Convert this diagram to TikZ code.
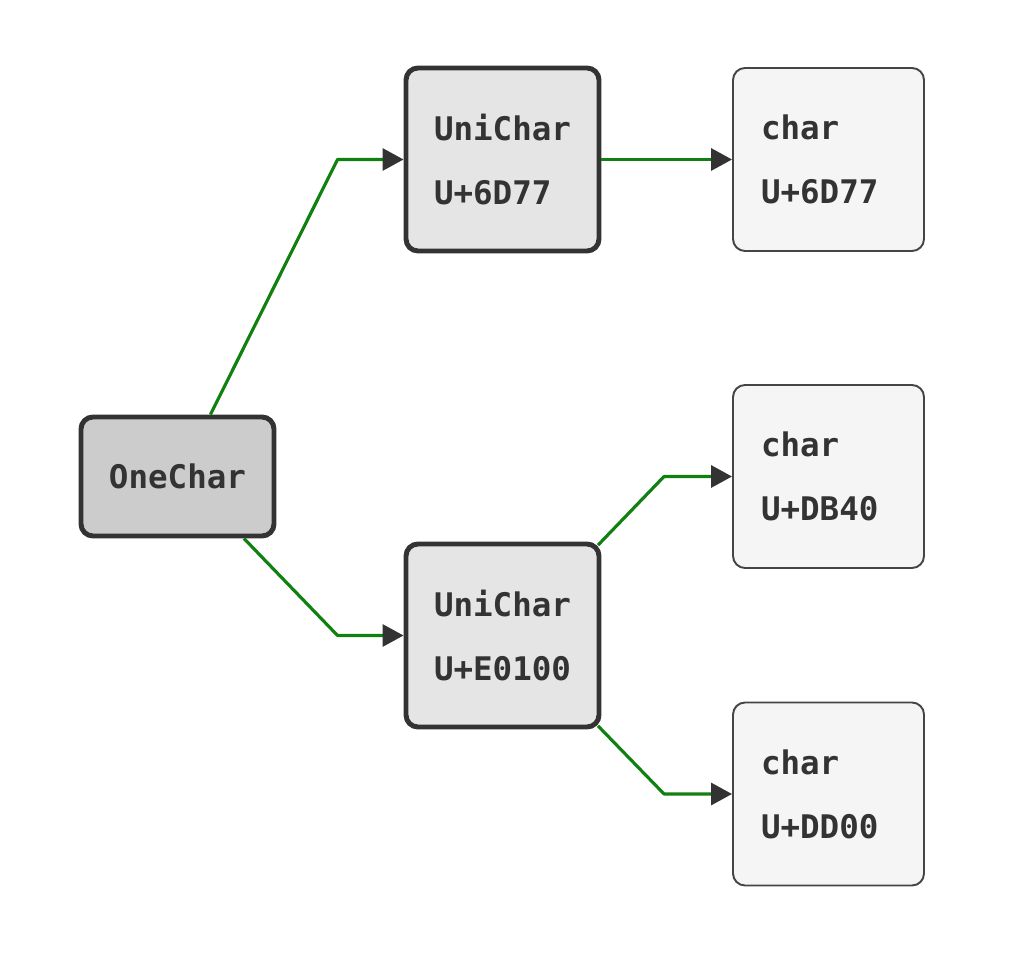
\documentclass[tikz,border=0pt]{standalone}
\usepackage{fontspec}
\setmonofont{DejaVu Sans Mono}
\usetikzlibrary{arrows.meta}
\definecolor{txtgray}{HTML}{333333}
\definecolor{edgegreen}{RGB}{16,128,16}
\tikzset{
  box/.style={rectangle, rounded corners=0.24cm, align=left, text=txtgray,
    font=\ttfamily\bfseries\fontsize{18.5}{36.4}\selectfont,
    inner xsep=0.56cm, inner ysep=0pt, minimum height=3.66cm},
  rootbox/.style={box, draw=txtgray, line width=2.8pt, fill=black!20,
    align=center, minimum width=3.82cm, minimum height=2.38cm},
  unibox/.style={box, draw=txtgray, line width=2.8pt, fill=black!10, text width=2.74cm},
  charbox/.style={box, draw=black!73, line width=1.1pt, fill=black!4, text width=2.70cm},
  link/.style={draw=edgegreen, line width=1.8pt, line join=round,
    -{Triangle[length=0.42cm, width=0.44cm, color=txtgray]}}
}
\begin{document}
\begin{tikzpicture}
  \useasboundingbox (0,0) rectangle (20.24,19.48);

  % root
  \node[rootbox] (one) at (3.55, 9.95) {OneChar};

  % code points
  \node[unibox] (u1) at (10.05, 16.29) {UniChar\\U+6D77};
  \node[unibox] (u2) at (10.05, 6.77) {UniChar\\U+E0100};

  % code units
  \node[charbox] (c1) at (16.57, 16.29) {char\\U+6D77};
  \node[charbox] (c2) at (16.57, 9.95) {char\\U+DB40};
  \node[charbox] (c3) at (16.57, 3.60) {char\\U+DD00};

  % links
  \draw[link] (one.62) -- ([xshift=-1.32cm]u1.west) -- (u1.west);
  \draw[link] (one.-43) -- ([xshift=-1.32cm]u2.west) -- (u2.west);
  \draw[link] (u1.east) -- (c1.west);
  \draw[link, shorten <=-0.1cm] (u2.north east) -- ([xshift=-1.36cm]c2.west) -- (c2.west);
  \draw[link, shorten <=-0.1cm] (u2.south east) -- ([xshift=-1.36cm]c3.west) -- (c3.west);
\end{tikzpicture}
\end{document}
